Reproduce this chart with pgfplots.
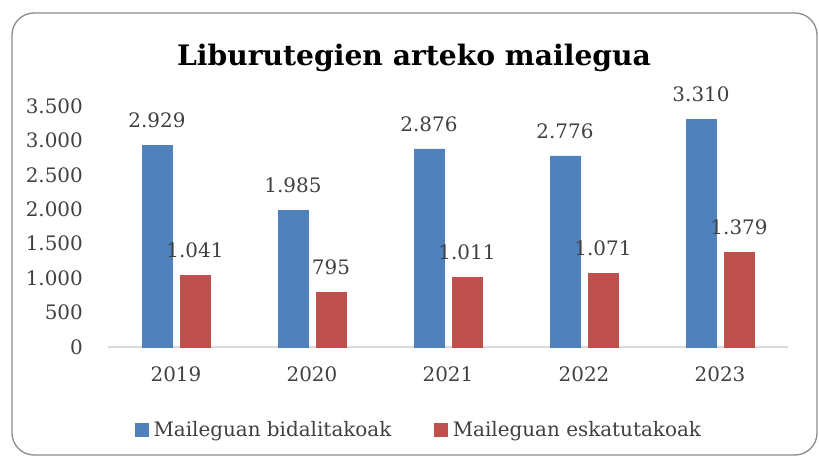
\documentclass[border=0pt]{standalone}
\usepackage{fontspec}
\setmainfont{DejaVu Serif}
\usepackage{pgfplots}
\pgfplotsset{compat=1.18}
\definecolor{barblue}{HTML}{4F81BD}
\definecolor{barred}{HTML}{C0504D}
\definecolor{txt}{HTML}{404040}
\definecolor{framegray}{HTML}{8C8C8C}

\begin{document}
\begin{tikzpicture}[x=1bp,y=1bp]
\begin{axis}[
    at={(0,0)}, anchor=south west,
    scale only axis, width=680bp, height=241bp,
    ybar=8bp, bar width=30bp,
    xmin=-0.5, xmax=4.5, ymin=0, ymax=3500,
    xtick=data, xticklabels={2019,2020,2021,2022,2023},
    ytick={0,500,...,3500},
    axis x line=bottom, axis y line=left,
    x axis line style={-, draw=black!15, line width=2bp},
    y axis line style={draw=none},
    major tick length=0pt,
    /pgf/number format/.cd, fixed, precision=0, 1000 sep={.}, assume math mode=true,
    /pgfplots/.cd,
    ticklabel style={font=\fontsize{20}{23}\selectfont, text=txt, inner sep=0pt},
    yticklabel style={xshift=-25bp},
    xticklabel style={yshift=-20bp},
    nodes near coords,
    every node near coord/.append style={font=\fontsize{20}{23}\selectfont, text=txt,
        inner sep=0pt, anchor=south, yshift=17bp},
    clip=false,
    legend columns=2,
    legend style={at={(0.456,-0.344)}, anchor=center, draw=none,
        font=\fontsize{20}{23}\selectfont, text=txt,
        nodes={inner sep=0pt},
        /tikz/every odd column/.append style={column sep=5bp},
        /tikz/every even column/.append style={column sep=43bp}},
    legend image code/.code={\fill[#1] (0bp,-6.5bp) rectangle (13bp,6.5bp);},
]
\addplot[fill=barblue, draw=barblue] coordinates {(0,2929) (1,1985) (2,2876) (3,2776) (4,3310)};
\addplot[fill=barred, draw=barred] coordinates {(0,1041) (1,795) (2,1011) (3,1071) (4,1379)};
\legend{Maileguan bidalitakoak, Maileguan eskatutakoak}
\end{axis}
\node[font=\bfseries\fontsize{28.3}{32}\selectfont, text=black] at (306,289) {Liburutegien arteko mailegua};
\draw[framegray, line width=1.3bp, rounded corners=22bp] (-96,-108) rectangle (709,334);
\pgfresetboundingbox
\path[use as bounding box] (-108,-110) rectangle (711,347);
\end{tikzpicture}
\end{document}
